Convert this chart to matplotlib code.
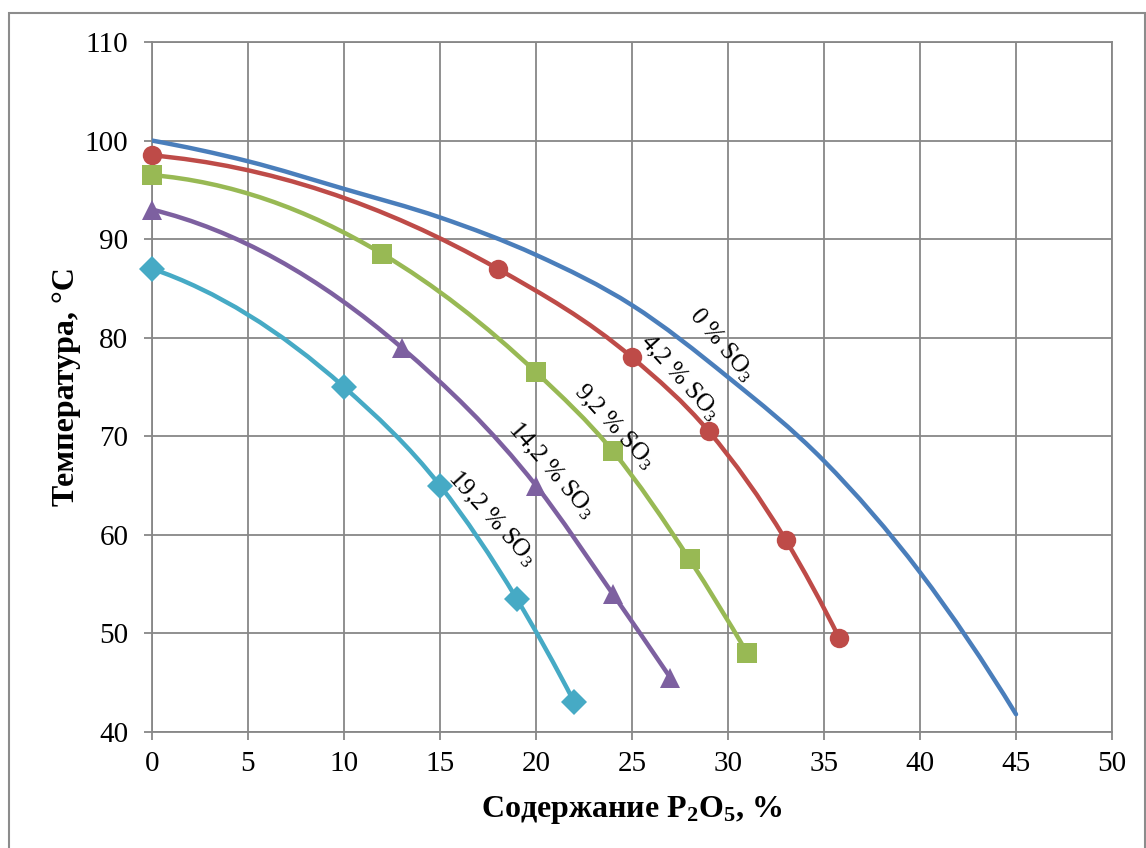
import matplotlib
matplotlib.use('Agg')
import matplotlib.pyplot as plt
from matplotlib.path import Path
from matplotlib.patches import PathPatch, Rectangle
import numpy as np

plt.rcParams['font.family'] = ['Liberation Serif', 'DejaVu Serif']
plt.rcParams['mathtext.fontset'] = 'custom'
plt.rcParams['mathtext.rm'] = 'Liberation Serif'
plt.rcParams['mathtext.it'] = 'Liberation Serif:italic'
plt.rcParams['mathtext.bf'] = 'Liberation Serif:bold'

# 0 % SO3 (line only)
x_0 = [0, 5, 10, 15, 20, 25, 30, 35, 40, 45]
t_0 = [100, 97.9, 95.1, 92.2, 88.4, 83.3, 76.0, 67.5, 56.2, 41.8]
# 4,2 % SO3
x_42 = [0, 18, 25, 29, 33, 35.8]
t_42 = [98.5, 87.0, 78.0, 70.5, 59.5, 49.5]
# 9,2 % SO3
x_92 = [0, 12, 20, 24, 28, 31]
t_92 = [96.5, 88.5, 76.5, 68.5, 57.5, 48.0]
# 14,2 % SO3
x_142 = [0, 13, 20, 24, 27]
t_142 = [93.0, 79.0, 65.0, 54.0, 45.5]
# 19,2 % SO3
x_192 = [0, 10, 15, 19, 22]
t_192 = [87.0, 75.0, 65.0, 53.5, 43.0]

labels = ['0 % SO$_\\mathrm{3}$', '4,2 % SO$_\\mathrm{3}$', '9,2 % SO$_\\mathrm{3}$',
          '14,2 % SO$_\\mathrm{3}$', '19,2 % SO$_\\mathrm{3}$']
label_pos = [(29.7, 79.3), (27.5, 76.0), (24.1, 71.0), (20.8, 66.6), (17.7, 61.7)]
label_rot = [-50, -48, -47, -49, -48]

colors = ['#4A7EBB', '#BE4B48', '#98B954', '#7D60A0', '#46AAC5']
markers = [None, 'o', 's', '^', 'D']
msizes = [0, 14, 14, 15, 13]


def smooth_path(xs, ys):
    # smoothed line through the points: cubic hermite with parabolic (Bessel) tangents
    x = np.asarray(xs, float)
    y = np.asarray(ys, float)
    n = len(x)
    h = np.diff(x)
    s = np.diff(y) / h
    d = np.zeros(n)
    for i in range(1, n - 1):
        d[i] = (h[i] * s[i - 1] + h[i - 1] * s[i]) / (h[i - 1] + h[i])
    d[0] = ((2 * h[0] + h[1]) * s[0] - h[0] * s[1]) / (h[0] + h[1])
    d[-1] = ((2 * h[-1] + h[-2]) * s[-1] - h[-1] * s[-2]) / (h[-1] + h[-2])
    verts = [(x[0], y[0])]
    codes = [Path.MOVETO]
    for i in range(n - 1):
        k = h[i] / 3.0
        verts += [(x[i] + k, y[i] + d[i] * k), (x[i + 1] - k, y[i + 1] - d[i + 1] * k),
                  (x[i + 1], y[i + 1])]
        codes += [Path.CURVE4] * 3
    return Path(verts, codes)


fig = plt.figure(figsize=(11.46, 8.48), dpi=100)
ax = fig.add_axes([152 / 1146, 1 - 732 / 848, 960 / 1146, 690 / 848])

series = [(x_0, t_0), (x_42, t_42), (x_92, t_92), (x_142, t_142), (x_192, t_192)]
for (xs, ys), c, m, ms in zip(series, colors, markers, msizes):
    ax.add_patch(PathPatch(smooth_path(xs, ys), facecolor='none', edgecolor=c,
                           lw=3.2, capstyle='round', zorder=3))
    if m is not None:
        ax.plot(xs, ys, linestyle='none', marker=m, color=c, markersize=ms,
                markeredgewidth=0, zorder=4, clip_on=False)

for lab, (lx, ly), rot in zip(labels, label_pos, label_rot):
    ax.text(lx, ly, lab, rotation=rot, rotation_mode='anchor', ha='center', va='center',
            fontsize=18, zorder=5)

ax.set_xlim(0, 50)
ax.set_ylim(40, 110)
ax.set_xticks(np.arange(0, 51, 5))
ax.set_yticks(np.arange(40, 111, 10))
ax.grid(True, color='#878787', lw=1.3)
ax.set_axisbelow(True)
for s in ax.spines.values():
    s.set_color('#878787')
    s.set_linewidth(1.3)
ax.tick_params(direction='out', length=6, width=1.3, color='#878787', labelsize=21)
ax.tick_params(axis='x', pad=8)
ax.tick_params(axis='y', pad=11)

ax.set_xlabel('Содержание P$_\\mathbf{2}$O$_\\mathbf{5}$, %', fontsize=23,
              fontweight='bold', labelpad=12)
ax.set_ylabel('Температура, °C', fontsize=23, fontweight='bold', labelpad=3)

fig.patches.append(Rectangle((9 / 1146, -0.05), 1136 / 1146, 1 - 13 / 848 + 0.05,
                             transform=fig.transFigure, fill=False,
                             edgecolor='#8C8C8C', lw=1.5))

fig.savefig('out.png', dpi=100)
